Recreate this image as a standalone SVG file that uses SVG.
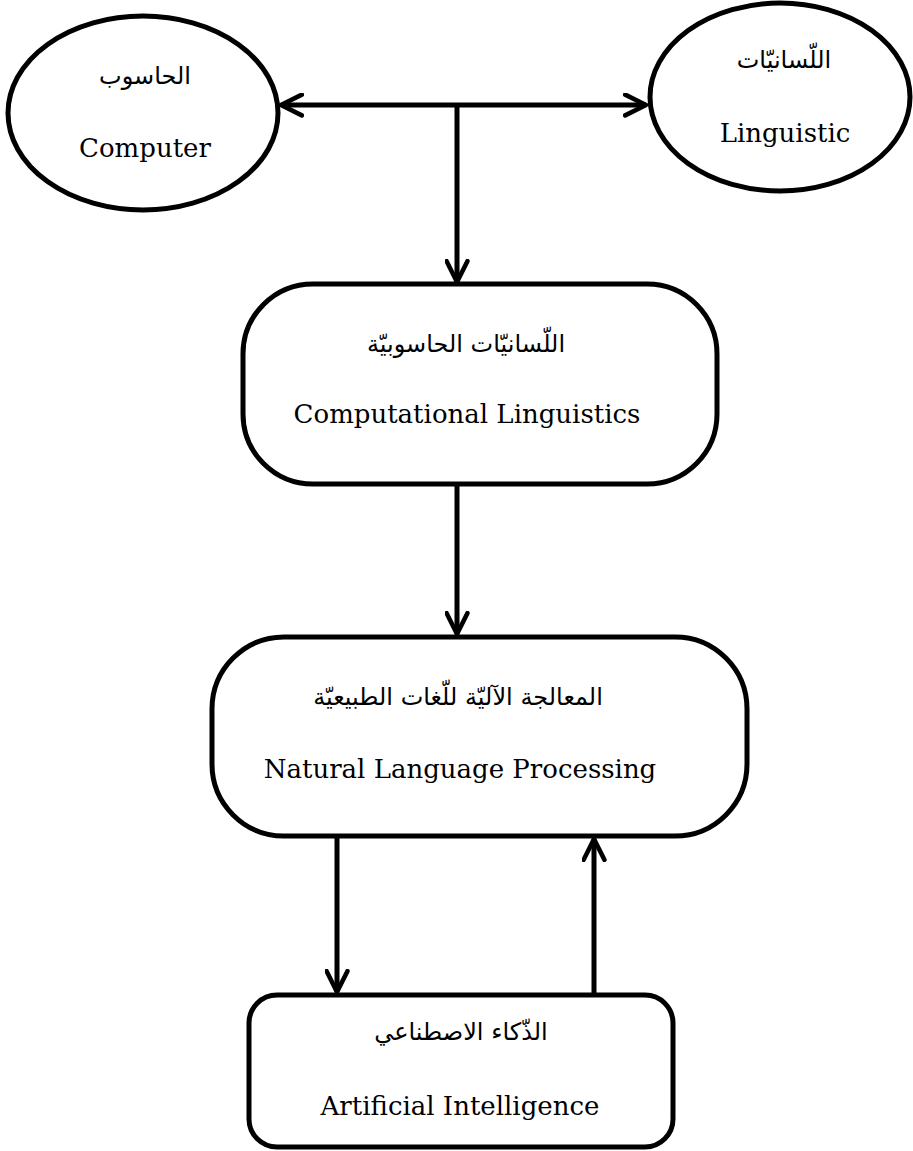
<svg xmlns="http://www.w3.org/2000/svg" width="913" height="1151" viewBox="0 0 913 1151">
<style>
.shape{fill:#fff;stroke:#000;stroke-width:5}
.en{font-family:"DejaVu Serif","Liberation Serif",serif;font-size:26px;fill:#000;text-anchor:middle}
.ar{font-family:"DejaVu Sans","Noto Sans",sans-serif;font-size:24px;fill:#000;text-anchor:middle;direction:rtl}
.conn{fill:none;stroke:#000;stroke-width:5}
</style>
<defs>
<marker id="arr" viewBox="0 0 12 12" refX="11" refY="6" markerWidth="5" markerHeight="5" orient="auto-start-reverse" markerUnits="strokeWidth">
<path d="M1,1 L11,6 L1,11" fill="none" stroke="#000" stroke-width="2.2" stroke-linecap="round" stroke-linejoin="round"/>
</marker>
</defs>
<g id="computer">
<ellipse class="shape" cx="143" cy="113" rx="135" ry="97"/>
<text class="ar" x="145" y="84">الحاسوب</text>
<text class="en" x="145" y="157">Computer</text>
</g>
<g id="linguistic">
<ellipse class="shape" cx="780" cy="97" rx="130" ry="94"/>
<text class="ar" x="784" y="68">اللّسانيّات</text>
<text class="en" x="785" y="142">Linguistic</text>
</g>
<g id="computational">
<rect class="shape" x="243" y="284" width="474" height="200" rx="70" ry="70"/>
<text class="ar" x="466" y="352">اللّسانيّات الحاسوبيّة</text>
<text class="en" x="467" y="423">Computational Linguistics</text>
</g>
<g id="nlp">
<rect class="shape" x="212" y="637" width="535" height="199" rx="72" ry="72"/>
<text class="ar" x="458" y="705">المعالجة الآليّة للّغات الطبيعيّة</text>
<text class="en" x="460" y="778">Natural Language Processing</text>
</g>
<g id="ai">
<rect class="shape" x="249" y="995" width="424" height="152" rx="28" ry="28"/>
<text class="ar" x="461" y="1040">الذّكاء الاصطناعي</text>
<text class="en" x="460" y="1115">Artificial Intelligence</text>
</g>
<g id="connectors">
<path class="conn" d="M281,105 L646,105" marker-start="url(#arr)" marker-end="url(#arr)"/>
<path class="conn" d="M457,105 L457,282" marker-end="url(#arr)"/>
<path class="conn" d="M457,486 L457,634" marker-end="url(#arr)"/>
<path class="conn" d="M337,838 L337,992" marker-end="url(#arr)"/>
<path class="conn" d="M594,993 L594,839" marker-end="url(#arr)"/>
</g>
</svg>
